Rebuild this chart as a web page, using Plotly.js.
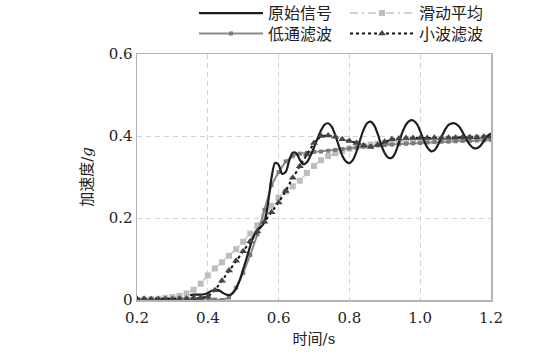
<!DOCTYPE html>
<html>
<head>
<meta charset="utf-8">
<script src="https://cdn.plot.ly/plotly-3.0.1.min.js"></script>
<style>html,body{margin:0;padding:0;background:#fff;}#chart{width:543px;height:356px;}</style>
</head>
<body>
<div id="chart"></div>
<script>
// Time axis for the filtered series (s)
const tFiltered = [0.20,0.22,0.24,0.26,0.28,0.30,0.32,0.34,0.36,0.38,0.40,0.42,0.44,0.46,0.48,0.50,0.52,0.54,0.56,0.58,0.60,0.62,0.64,0.66,0.68,0.70,0.72,0.74,0.76,0.78,0.80,0.82,0.84,0.86,0.88,0.90,0.92,0.94,0.96,0.98,1.00,1.02,1.04,1.06,1.08,1.10,1.12,1.14,1.16,1.18,1.20];
// 滑动平均 (moving average)
const movingAvg = [0.000,0.001,0.002,0.003,0.005,0.007,0.010,0.016,0.025,0.040,0.060,0.077,0.092,0.108,0.124,0.142,0.162,0.182,0.205,0.230,0.250,0.264,0.277,0.291,0.310,0.327,0.341,0.351,0.358,0.364,0.369,0.373,0.376,0.379,0.381,0.383,0.385,0.386,0.387,0.388,0.389,0.390,0.391,0.392,0.393,0.394,0.394,0.395,0.396,0.396,0.397];
// 低通滤波 (low-pass)
const lowPass = [0.002,0.002,0.002,0.002,0.003,0.003,0.004,0.004,0.005,0.005,0.004,0.001,0.000,0.006,0.030,0.066,0.110,0.160,0.220,0.280,0.312,0.338,0.351,0.357,0.359,0.361,0.362,0.364,0.366,0.368,0.370,0.372,0.374,0.375,0.377,0.378,0.379,0.380,0.381,0.382,0.383,0.384,0.385,0.386,0.386,0.387,0.388,0.388,0.389,0.389,0.390];
// 小波滤波 (wavelet)
const wavelet = [0.003,0.003,0.002,0.002,0.002,0.002,0.003,0.003,0.004,0.005,0.008,0.024,0.047,0.072,0.096,0.119,0.143,0.167,0.191,0.214,0.238,0.266,0.298,0.326,0.355,0.383,0.400,0.401,0.398,0.392,0.388,0.383,0.377,0.373,0.378,0.386,0.392,0.394,0.395,0.395,0.395,0.395,0.396,0.396,0.396,0.396,0.397,0.397,0.397,0.398,0.398];
// 原始信号 (original signal)
const tRaw = [0.35,0.36,0.37,0.38,0.39,0.40,0.41,0.42,0.43,0.44,0.45,0.46,0.47,0.48,0.49,0.50,0.51,0.52,0.53,0.54,0.55,0.56,0.57,0.58,0.59,0.60,0.61,0.62,0.63,0.64,0.65,0.66,0.67,0.68,0.69,0.70,0.71,0.72,0.73,0.74,0.75,0.76,0.77,0.78,0.79,0.80,0.81,0.82,0.83,0.84,0.85,0.86,0.87,0.88,0.89,0.90,0.91,0.92,0.93,0.94,0.95,0.96,0.97,0.98,0.99,1.00,1.01,1.02,1.03,1.04,1.05,1.06,1.07,1.08,1.09,1.10,1.11,1.12,1.13,1.14,1.15,1.16,1.17,1.18,1.19,1.20];
const rawSignal = [0.012,0.013,0.013,0.013,0.014,0.017,0.022,0.025,0.024,0.019,0.014,0.012,0.016,0.028,0.048,0.075,0.103,0.132,0.157,0.172,0.178,0.190,0.235,0.298,0.334,0.330,0.308,0.312,0.340,0.359,0.358,0.342,0.331,0.336,0.352,0.372,0.394,0.414,0.428,0.431,0.423,0.402,0.376,0.352,0.338,0.334,0.342,0.362,0.390,0.415,0.431,0.435,0.426,0.405,0.378,0.358,0.347,0.347,0.360,0.384,0.410,0.428,0.437,0.438,0.430,0.412,0.390,0.372,0.363,0.365,0.378,0.397,0.415,0.427,0.431,0.430,0.423,0.409,0.392,0.379,0.371,0.370,0.376,0.388,0.400,0.406];

const xTickVals = [0.2,0.4,0.6,0.8,1.0,1.2];
const xTickText = ['0.2','0.4','0.6','0.8','1.0','1.2'];
const yTickVals = [0,0.2,0.4,0.6];
const yTickText = ['0','0.2','0.4','0.6'];

const serif = 'DejaVu Serif, Noto Sans CJK SC';
const cjk = 'Noto Sans CJK SC';

const traces = [
  {
    x: tFiltered, y: movingAvg, name: '滑动平均', type: 'scatter', mode: 'lines+markers',
    line: {color: '#c4c4c4', width: 1.5, dash: '8px,4px,2px,4px'},
    marker: {symbol: 'square', size: 6, color: '#bdbdbd'},
    legend: 'legend'
  },
  {
    x: tFiltered, y: lowPass, name: '低通滤波', type: 'scatter', mode: 'lines+markers',
    line: {color: '#8a8a8a', width: 2},
    marker: {symbol: 'square', size: 4, color: '#7a7a7a'},
    legend: 'legend2', legendrank: 1
  },
  {
    x: tRaw, y: rawSignal, name: '原始信号', type: 'scatter', mode: 'lines',
    line: {color: '#1e1e1e', width: 2.2, shape: 'spline', smoothing: 0.8},
    legend: 'legend', legendrank: 1
  },
  {
    x: tFiltered, y: wavelet, name: '小波滤波', type: 'scatter', mode: 'lines+markers',
    line: {color: '#111111', width: 2, dash: 'dot'},
    marker: {symbol: 'triangle-up', size: 7, color: '#444444'},
    legend: 'legend2', legendrank: 2
  }
];

const legendCommon = {
  orientation: 'h', xanchor: 'left', yanchor: 'top',
  font: {family: cjk, size: 16, color: '#222222'},
  itemwidth: 64, entrywidth: 72, entrywidthmode: 'pixels',
  bgcolor: 'rgba(0,0,0,0)', borderwidth: 0, traceorder: 'normal'
};

const layout = {
  width: 543, height: 356,
  margin: {l: 137, r: 52, t: 54, b: 56, autoexpand: false},
  paper_bgcolor: '#ffffff', plot_bgcolor: '#ffffff',
  font: {family: serif},
  showlegend: true,
  legend: Object.assign({}, legendCommon, {x: 0.161, y: 1.235}),
  legend2: Object.assign({}, legendCommon, {x: 0.161, y: 1.152}),
  xaxis: {
    range: [0.2, 1.2], tickvals: xTickVals, ticktext: xTickText,
    showline: true, mirror: true, linecolor: '#b5b5b5', linewidth: 1.5,
    showgrid: true, gridcolor: '#d2d2d2', griddash: '5px,4px', gridwidth: 1,
    zeroline: false, ticks: '', ticklabelstandoff: 3,
    tickfont: {family: serif, size: 15, color: '#222222'},
    title: {text: '时间/s', font: {family: serif, size: 15, color: '#222222'}, standoff: 8}
  },
  yaxis: {
    range: [0, 0.6], tickvals: yTickVals, ticktext: yTickText,
    showline: true, mirror: true, linecolor: '#b5b5b5', linewidth: 1.5,
    showgrid: true, gridcolor: '#d2d2d2', griddash: '5px,4px', gridwidth: 1,
    zeroline: false, ticks: '',
    tickfont: {family: serif, size: 15, color: '#222222'},
    title: {text: '加速度/<i>g</i>', font: {family: serif, size: 15, color: '#222222'}, standoff: 12}
  }
};

Plotly.newPlot('chart', traces, layout, {displayModeBar: false, staticPlot: true});
</script>
</body>
</html>
